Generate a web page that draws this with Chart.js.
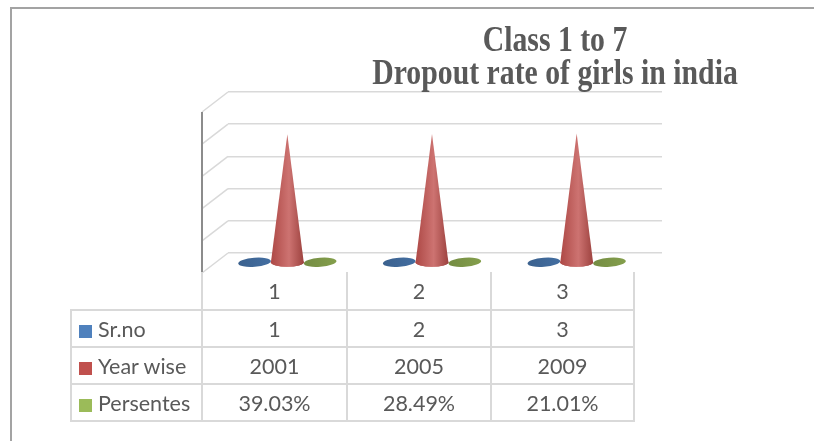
<!DOCTYPE html>
<html>
<head>
<meta charset="utf-8">
<script src="https://cdn.jsdelivr.net/npm/chart.js@4/dist/chart.umd.min.js"></script>
<style>
    body { margin: 0; background: #fff; }
    #wrap { position: relative; width: 814px; height: 441px; overflow: hidden; }
    #frame { position: absolute; left: 10px; top: 7px; width: 900px; height: 600px; border: 2px solid #a3a3a3; }
    #chart { position: absolute; left: 0; top: 0; }
    .title { position: absolute; left: 255px; width: 600px; text-align: center; white-space: nowrap;
             font: bold 35px "Liberation Serif", serif; line-height: 35px; color: #595959;
             transform: scaleX(0.85); transform-origin: center; }
    #dataTable { position: absolute; left: 70px; top: 272px; border-collapse: collapse;
                 font: 21.5px Lato, sans-serif; color: #595959; table-layout: fixed; }
    #dataTable td { border: 2px solid #d9d9d9; text-align: center; padding: 0; }
    #dataTable tr.head td { border-top: none; height: 37px; }
    #dataTable tr.head td.blank { border-left: none; }
    #dataTable tr.row td { height: 35px; }
    #dataTable td.label { text-align: left; padding-left: 7px; }
    .key { display: inline-block; width: 13px; height: 13px; margin-right: 6px; vertical-align: -1px; }
</style>
</head>
<body>
<div id="wrap">
    <div id="frame"></div>
    <canvas id="chart" width="814" height="441"></canvas>
    <div class="title" style="top: 22px;">Class 1 to 7</div>
    <div class="title" style="top: 55px;">Dropout rate of girls in india</div>
    <table id="dataTable"></table>
</div>
<script>
const categories = ["1", "2", "3"];
const seriesNames = ["Sr.no", "Year wise", "Persentes"];
const srNo = [1, 2, 3];
const yearWise = [2001, 2005, 2009];
const persentes = [0.3903, 0.2849, 0.2101];
const seriesColors = ["#4f81bd", "#c0504d", "#9bbb59"];

// depth offset of the 3d floor (front minus back wall)
const DX = -26;
const DY = 20;

function formatValue(seriesIndex, v) {
    if (seriesIndex === 2) {
        return (v * 100).toFixed(2) + "%";
    }
    return String(v);
}

function shade(hex, amt) {
    const n = parseInt(hex.slice(1), 16);
    const f = c => Math.max(0, Math.min(255, Math.round(c + (amt < 0 ? c * amt : (255 - c) * amt))));
    const r = f(n >> 16), g = f((n >> 8) & 255), b = f(n & 255);
    return `rgb(${r},${g},${b})`;
}

const depthPlugin = {
    id: "depth",
    beforeDatasetsDraw(chart) {
        const { ctx, chartArea, scales } = chart;
        ctx.save();
        ctx.strokeStyle = "#d9d9d9";
        ctx.lineWidth = 1.5;
        scales.y.ticks.forEach(t => {
            const py = scales.y.getPixelForValue(t.value);
            ctx.beginPath();
            ctx.moveTo(chartArea.left, py);
            ctx.lineTo(chartArea.left + DX, py + DY);
            ctx.stroke();
        });
        ctx.strokeStyle = "#8c8c8c";
        ctx.lineWidth = 2;
        ctx.beginPath();
        ctx.moveTo(chartArea.left + DX, chartArea.top + DY);
        ctx.lineTo(chartArea.left + DX, chartArea.bottom + DY);
        ctx.stroke();
        ctx.restore();
    },
    afterDatasetsDraw(chart) {
        const { ctx } = chart;
        // red cones go last so they sit over the flat ones
        [0, 2, 1].forEach(di => {
            const meta = chart.getDatasetMeta(di);
            const color = seriesColors[di];
            meta.data.forEach(bar => {
                const { x, y, base, width } = bar.getProps(["x", "y", "base", "width"], true);
                const cx = x + DX / 2;
                const by = base + DY / 2;
                const ty = y + DY / 2;
                const rx = width / 2;
                const ry = 4.5;
                const tall = by - ty > 2;
                const g = ctx.createLinearGradient(cx - rx, 0, cx + rx, 0);
                if (tall) {
                    g.addColorStop(0, shade(color, -0.1));
                    g.addColorStop(0.55, shade(color, 0.2));
                    g.addColorStop(1, shade(color, -0.18));
                } else {
                    g.addColorStop(0, shade(color, -0.25));
                    g.addColorStop(1, shade(color, -0.15));
                }
                ctx.save();
                ctx.fillStyle = g;
                ctx.beginPath();
                ctx.ellipse(cx, by, rx, ry, tall ? 0 : -0.08, 0, Math.PI * 2);
                ctx.fill();
                if (tall) {
                    ctx.beginPath();
                    ctx.moveTo(cx, ty);
                    ctx.lineTo(cx - rx, by);
                    ctx.ellipse(cx, by, rx, ry, 0, Math.PI, 0, true);
                    ctx.lineTo(cx, ty);
                    ctx.fill();
                }
                ctx.restore();
            });
        });
    }
};

const allSeries = [srNo, yearWise, persentes];

new Chart(document.getElementById("chart"), {
    type: "bar",
    data: {
        labels: categories,
        datasets: allSeries.map((values, i) => ({
            label: seriesNames[i],
            data: values,
            backgroundColor: "rgba(0,0,0,0)",
            borderWidth: 0,
            categoryPercentage: 0.68,
            barPercentage: 1.0
        }))
    },
    options: {
        responsive: false,
        animation: false,
        layout: { padding: { left: 228, right: 152, top: 92, bottom: 188 } },
        plugins: {
            legend: { display: false },
            title: { display: false },
            tooltip: { enabled: false }
        },
        scales: {
            x: { display: false },
            y: {
                min: 0,
                max: 2500,
                ticks: { stepSize: 500, display: false },
                grid: { color: "#d9d9d9", lineWidth: 1.5, drawTicks: false },
                border: { display: false },
                afterFit: s => { s.width = 0; }
            }
        }
    },
    plugins: [depthPlugin]
});

// data table under the plot
const table = document.getElementById("dataTable");
const colWidths = [131, 145, 144, 143];
table.innerHTML =
    "<colgroup>" + colWidths.map(w => `<col style="width:${w}px">`).join("") + "</colgroup>" +
    `<tr class="head"><td class="blank"></td>${categories.map(c => `<td>${c}</td>`).join("")}</tr>` +
    allSeries.map((values, i) =>
        `<tr class="row"><td class="label"><span class="key" style="background:${seriesColors[i]}"></span>${seriesNames[i]}</td>` +
        values.map(v => `<td>${formatValue(i, v)}</td>`).join("") + "</tr>"
    ).join("");
</script>
</body>
</html>
